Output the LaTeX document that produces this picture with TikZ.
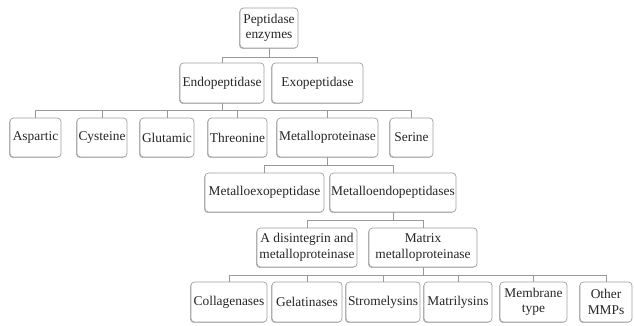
\documentclass[tikz,border=0pt]{standalone}
\usepackage{fontspec}
\setmainfont{Liberation Serif}
\usetikzlibrary{shadows}
\begin{document}
\begin{tikzpicture}[x=1pt,y=-1pt,
  box/.style={draw=gray!75, line width=0.7pt, rounded corners=3.5pt, fill=white, inner sep=0pt,
    align=center, text=black!85, font=\rmfamily\fontsize{13.4}{15.5}\selectfont,
    drop shadow={shadow xshift=-0.9pt, shadow yshift=-0.9pt, fill=gray!55, opacity=1}},
  conn/.style={draw=gray!80, line width=0.8pt}]
\useasboundingbox (0,0) rectangle (634,325);
% level 1
\node[box, minimum width=58pt, minimum height=40pt] (P) at (269,28) {Peptidase\\enzymes};
% level 2
\node[box, minimum width=84pt, minimum height=40pt] (Endo) at (222,83) {Endopeptidase};
\node[box, minimum width=91pt, minimum height=40pt] (Exo) at (317.5,83) {Exopeptidase};
% level 3
\node[box, minimum width=51pt, minimum height=39pt] (Asp) at (35.5,137.5) {Aspartic};
\node[box, minimum width=50pt, minimum height=39pt] (Cys) at (102,137.5) {Cysteine};
\node[box, minimum width=54pt, minimum height=39pt] (Glu) at (167,137.5) {Glutamic};
\node[box, minimum width=59pt, minimum height=39pt] (Thr) at (237.5,137.5) {Threonine};
\node[box, minimum width=101pt, minimum height=39pt] (Met) at (327.5,137.5) {Metalloproteinase};
\node[box, minimum width=43pt, minimum height=39pt] (Ser) at (411.5,137.5) {Serine};
% level 4
\node[box, minimum width=119pt, minimum height=39pt] (MExo) at (264.5,192.5) {Metalloexopeptidase};
\node[box, minimum width=126pt, minimum height=39pt] (MEndo) at (393,192.5) {Metalloendopeptidases};
% level 5
\node[box, minimum width=100pt, minimum height=39pt] (ADAM) at (307,247.5) {A disintegrin and\\metalloproteinase};
\node[box, minimum width=108pt, minimum height=39pt] (MMP) at (423,247.5) {Matrix\\metalloproteinase};
% level 6
\node[box, minimum width=76pt, minimum height=40pt] (Col) at (229,302) {Collagenases};
\node[box, minimum width=70pt, minimum height=40pt] (Gel) at (307,302) {Gelatinases};
\node[box, minimum width=74pt, minimum height=40pt] (Str) at (383,302) {Stromelysins};
\node[box, minimum width=68pt, minimum height=40pt] (Mat) at (458,302) {Matrilysins};
\node[box, minimum width=67pt, minimum height=40pt] (Mem) at (533.5,302) {Membrane\\type};
\node[box, minimum width=52pt, minimum height=40pt] (Oth) at (606,302) {Other\\MMPs};
% connectors
\draw[conn] (P.south) -- ++(0,9) coordinate (b1);
\draw[conn] (Endo.north) |- (b1) -| (Exo.north);
\draw[conn] (Endo.south) -- ++(0,7) coordinate (b2);
\draw[conn] (Asp.north) |- (b2) -| (Ser.north);
\foreach \n in {Cys,Glu,Thr,Met} \draw[conn] (\n.north) -- (\n.north |- b2);
\draw[conn] (Met.south) -- ++(0,8) coordinate (b3);
\draw[conn] (MExo.north) |- (b3) -| (MEndo.north);
\draw[conn] (MEndo.south) -- ++(0,8) coordinate (b4);
\draw[conn] (ADAM.north) |- (b4) -| (MMP.north);
\draw[conn] (MMP.south) -- ++(0,8) coordinate (b5);
\draw[conn] (Col.north) |- (b5) -| (Oth.north);
\foreach \n in {Gel,Str,Mat,Mem} \draw[conn] (\n.north) -- (\n.north |- b5);
\end{tikzpicture}
\end{document}
